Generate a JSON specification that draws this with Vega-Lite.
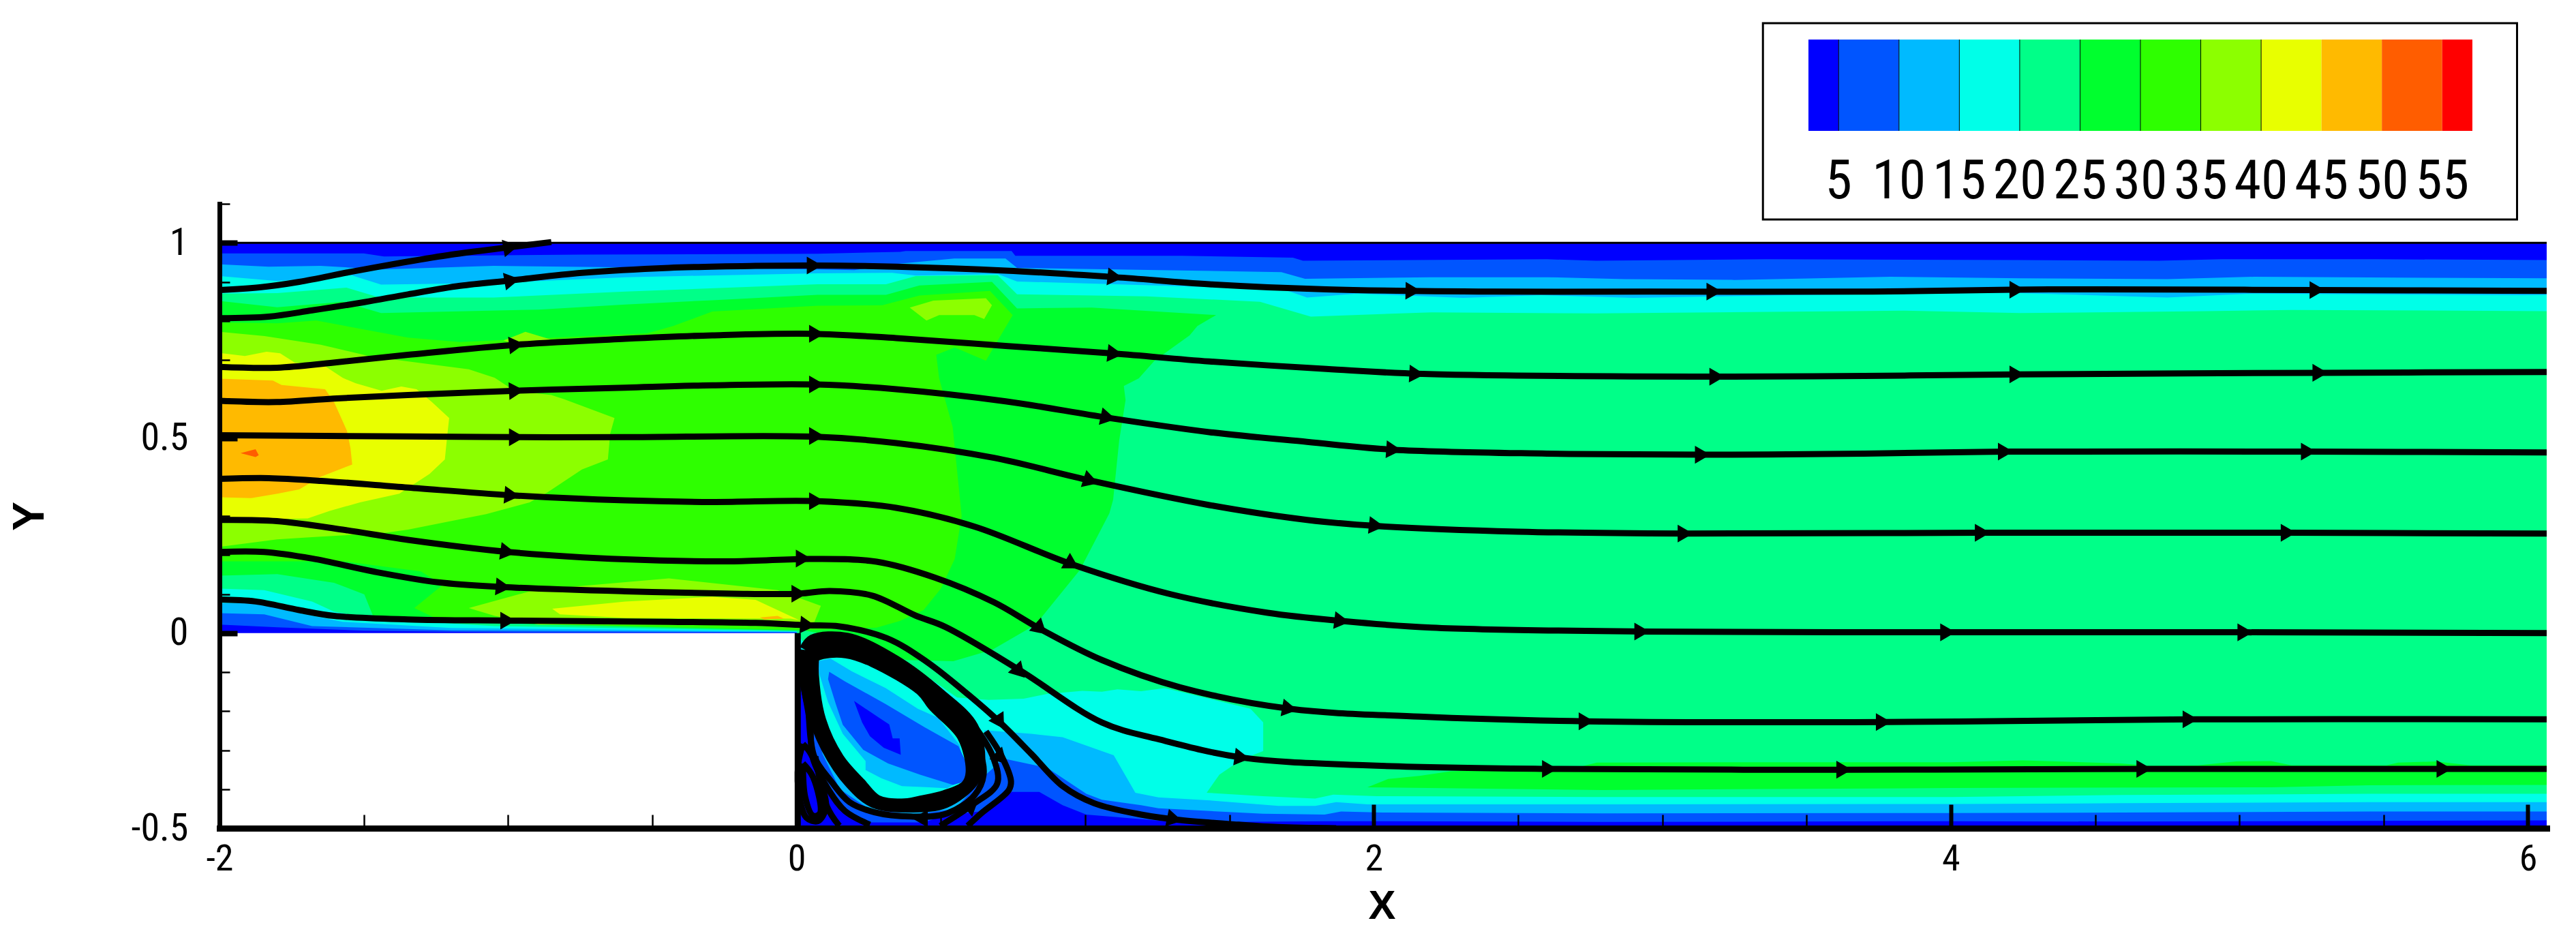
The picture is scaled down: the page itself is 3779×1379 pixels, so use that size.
{"$schema":"https://vega.github.io/schema/vega-lite/v6.json","width":3414,"height":916,"autosize":"none","padding":{"left":322,"top":299,"right":43,"bottom":164},"background":"white","config":{"view":{"stroke":null}},
"datasets":{
"bands":[
{"p":"base","u":2.5,"x":-2,"y":1},{"p":"base","u":2.5,"x":6.065,"y":1},{"p":"base","u":2.5,"x":6.065,"y":-0.5},{"p":"base","u":2.5,"x":0,"y":-0.5},{"p":"base","u":2.5,"x":0,"y":0},{"p":"base","u":2.5,"x":-2,"y":0},
{"p":"p5","u":7.5,"x":-2,"y":0.973},{"p":"p5","u":7.5,"x":-1.5,"y":0.973},{"p":"p5","u":7.5,"x":-1.43,"y":0.965},{"p":"p5","u":7.5,"x":-0.75,"y":0.97},{"p":"p5","u":7.5,"x":0.073,"y":0.972},{"p":"p5","u":7.5,"x":0.358,"y":0.977},{"p":"p5","u":7.5,"x":0.378,"y":0.979},{"p":"p5","u":7.5,"x":0.745,"y":0.979},{"p":"p5","u":7.5,"x":0.758,"y":0.967},{"p":"p5","u":7.5,"x":1.335,"y":0.967},{"p":"p5","u":7.5,"x":1.72,"y":0.962},{"p":"p5","u":7.5,"x":1.755,"y":0.954},{"p":"p5","u":7.5,"x":2.6,"y":0.958},{"p":"p5","u":7.5,"x":2.77,"y":0.954},{"p":"p5","u":7.5,"x":3.36,"y":0.958},{"p":"p5","u":7.5,"x":4.24,"y":0.956},{"p":"p5","u":7.5,"x":4.72,"y":0.954},{"p":"p5","u":7.5,"x":4.94,"y":0.958},{"p":"p5","u":7.5,"x":5.47,"y":0.958},{"p":"p5","u":7.5,"x":6.065,"y":0.956},{"p":"p5","u":7.5,"x":6.065,"y":-0.48},{"p":"p5","u":7.5,"x":4.59,"y":-0.483},{"p":"p5","u":7.5,"x":4,"y":-0.482},{"p":"p5","u":7.5,"x":2.79,"y":-0.484},{"p":"p5","u":7.5,"x":2.03,"y":-0.482},{"p":"p5","u":7.5,"x":1.833,"y":-0.482},{"p":"p5","u":7.5,"x":1.329,"y":-0.485},{"p":"p5","u":7.5,"x":1.004,"y":-0.465},{"p":"p5","u":7.5,"x":0.922,"y":-0.441},{"p":"p5","u":7.5,"x":0.841,"y":-0.407},{"p":"p5","u":7.5,"x":0.746,"y":-0.407},{"p":"p5","u":7.5,"x":0.648,"y":-0.456},{"p":"p5","u":7.5,"x":0.506,"y":-0.468},{"p":"p5","u":7.5,"x":0.443,"y":-0.485},{"p":"p5","u":7.5,"x":0.254,"y":-0.485},{"p":"p5","u":7.5,"x":0.152,"y":-0.456},{"p":"p5","u":7.5,"x":0.065,"y":-0.322},{"p":"p5","u":7.5,"x":0.025,"y":-0.16},{"p":"p5","u":7.5,"x":0.006,"y":-0.03},{"p":"p5","u":7.5,"x":0,"y":0.001},{"p":"p5","u":7.5,"x":-1.046,"y":0.002},{"p":"p5","u":7.5,"x":-1.498,"y":0.006},{"p":"p5","u":7.5,"x":-1.8,"y":0.015},{"p":"p5","u":7.5,"x":-2,"y":0.022},
{"p":"p10","u":12.5,"x":-2,"y":0.945},{"p":"p10","u":12.5,"x":-1.83,"y":0.939},{"p":"p10","u":12.5,"x":-1.65,"y":0.941},{"p":"p10","u":12.5,"x":-1.44,"y":0.932},{"p":"p10","u":12.5,"x":-1.05,"y":0.941},{"p":"p10","u":12.5,"x":0.073,"y":0.932},{"p":"p10","u":12.5,"x":0.2,"y":0.93},{"p":"p10","u":12.5,"x":0.345,"y":0.946},{"p":"p10","u":12.5,"x":0.546,"y":0.96},{"p":"p10","u":12.5,"x":0.724,"y":0.96},{"p":"p10","u":12.5,"x":0.764,"y":0.936},{"p":"p10","u":12.5,"x":1.68,"y":0.925},{"p":"p10","u":12.5,"x":1.762,"y":0.908},{"p":"p10","u":12.5,"x":2.2,"y":0.912},{"p":"p10","u":12.5,"x":2.6,"y":0.912},{"p":"p10","u":12.5,"x":2.87,"y":0.907},{"p":"p10","u":12.5,"x":3.25,"y":0.905},{"p":"p10","u":12.5,"x":3.79,"y":0.913},{"p":"p10","u":12.5,"x":4.24,"y":0.909},{"p":"p10","u":12.5,"x":4.75,"y":0.907},{"p":"p10","u":12.5,"x":5.05,"y":0.913},{"p":"p10","u":12.5,"x":6.065,"y":0.909},{"p":"p10","u":12.5,"x":6.065,"y":-0.457},{"p":"p10","u":12.5,"x":5.45,"y":-0.457},{"p":"p10","u":12.5,"x":4.59,"y":-0.46},{"p":"p10","u":12.5,"x":4,"y":-0.461},{"p":"p10","u":12.5,"x":2.79,"y":-0.462},{"p":"p10","u":12.5,"x":2.03,"y":-0.46},{"p":"p10","u":12.5,"x":1.887,"y":-0.457},{"p":"p10","u":12.5,"x":1.83,"y":-0.465},{"p":"p10","u":12.5,"x":1.616,"y":-0.463},{"p":"p10","u":12.5,"x":1.254,"y":-0.449},{"p":"p10","u":12.5,"x":1.194,"y":-0.441},{"p":"p10","u":12.5,"x":1.058,"y":-0.427},{"p":"p10","u":12.5,"x":1.004,"y":-0.412},{"p":"p10","u":12.5,"x":0.868,"y":-0.345},{"p":"p10","u":12.5,"x":0.719,"y":-0.322},{"p":"p10","u":12.5,"x":0.66,"y":-0.36},{"p":"p10","u":12.5,"x":0.55,"y":-0.45},{"p":"p10","u":12.5,"x":0.4,"y":-0.465},{"p":"p10","u":12.5,"x":0.25,"y":-0.45},{"p":"p10","u":12.5,"x":0.15,"y":-0.4},{"p":"p10","u":12.5,"x":0.09,"y":-0.31},{"p":"p10","u":12.5,"x":0.04,"y":-0.15},{"p":"p10","u":12.5,"x":0.006,"y":-0.03},{"p":"p10","u":12.5,"x":0,"y":0.002},{"p":"p10","u":12.5,"x":-1.196,"y":0.007},{"p":"p10","u":12.5,"x":-1.679,"y":0.018},{"p":"p10","u":12.5,"x":-1.845,"y":0.048},{"p":"p10","u":12.5,"x":-2,"y":0.051},
{"p":"p15","u":17.5,"x":-2,"y":0.915},{"p":"p15","u":17.5,"x":-1.8,"y":0.902},{"p":"p15","u":17.5,"x":-1.66,"y":0.91},{"p":"p15","u":17.5,"x":-1.543,"y":0.917},{"p":"p15","u":17.5,"x":-1.44,"y":0.893},{"p":"p15","u":17.5,"x":-1.05,"y":0.897},{"p":"p15","u":17.5,"x":-0.59,"y":0.912},{"p":"p15","u":17.5,"x":0.073,"y":0.922},{"p":"p15","u":17.5,"x":0.331,"y":0.923},{"p":"p15","u":17.5,"x":0.413,"y":0.916},{"p":"p15","u":17.5,"x":0.697,"y":0.92},{"p":"p15","u":17.5,"x":0.764,"y":0.901},{"p":"p15","u":17.5,"x":1.687,"y":0.881},{"p":"p15","u":17.5,"x":1.769,"y":0.86},{"p":"p15","u":17.5,"x":1.945,"y":0.87},{"p":"p15","u":17.5,"x":2.31,"y":0.859},{"p":"p15","u":17.5,"x":2.58,"y":0.866},{"p":"p15","u":17.5,"x":2.9,"y":0.859},{"p":"p15","u":17.5,"x":3.44,"y":0.866},{"p":"p15","u":17.5,"x":4.2,"y":0.872},{"p":"p15","u":17.5,"x":4.75,"y":0.86},{"p":"p15","u":17.5,"x":5.05,"y":0.87},{"p":"p15","u":17.5,"x":5.98,"y":0.866},{"p":"p15","u":17.5,"x":6.065,"y":0.867},{"p":"p15","u":17.5,"x":6.065,"y":-0.433},{"p":"p15","u":17.5,"x":5.45,"y":-0.433},{"p":"p15","u":17.5,"x":4.59,"y":-0.436},{"p":"p15","u":17.5,"x":4,"y":-0.438},{"p":"p15","u":17.5,"x":2.79,"y":-0.439},{"p":"p15","u":17.5,"x":1.978,"y":-0.439},{"p":"p15","u":17.5,"x":1.87,"y":-0.433},{"p":"p15","u":17.5,"x":1.797,"y":-0.443},{"p":"p15","u":17.5,"x":1.67,"y":-0.443},{"p":"p15","u":17.5,"x":1.435,"y":-0.429},{"p":"p15","u":17.5,"x":1.254,"y":-0.421},{"p":"p15","u":17.5,"x":1.174,"y":-0.409},{"p":"p15","u":17.5,"x":1.099,"y":-0.313},{"p":"p15","u":17.5,"x":0.922,"y":-0.267},{"p":"p15","u":17.5,"x":0.814,"y":-0.258},{"p":"p15","u":17.5,"x":0.651,"y":-0.249},{"p":"p15","u":17.5,"x":0.64,"y":-0.36},{"p":"p15","u":17.5,"x":0.52,"y":-0.44},{"p":"p15","u":17.5,"x":0.3,"y":-0.44},{"p":"p15","u":17.5,"x":0.17,"y":-0.38},{"p":"p15","u":17.5,"x":0.09,"y":-0.28},{"p":"p15","u":17.5,"x":0.04,"y":-0.1},{"p":"p15","u":17.5,"x":0.006,"y":-0.01},{"p":"p15","u":17.5,"x":0,"y":0.004},{"p":"p15","u":17.5,"x":-1.196,"y":0.013},{"p":"p15","u":17.5,"x":-1.573,"y":0.029},{"p":"p15","u":17.5,"x":-1.724,"y":0.051},{"p":"p15","u":17.5,"x":-1.875,"y":0.077},{"p":"p15","u":17.5,"x":-2,"y":0.077},
{"p":"p20","u":22.5,"x":-2,"y":0.87},{"p":"p20","u":22.5,"x":-1.8,"y":0.871},{"p":"p20","u":22.5,"x":-1.56,"y":0.885},{"p":"p20","u":22.5,"x":-1.445,"y":0.86},{"p":"p20","u":22.5,"x":-1.05,"y":0.86},{"p":"p20","u":22.5,"x":-0.594,"y":0.875},{"p":"p20","u":22.5,"x":0.073,"y":0.894},{"p":"p20","u":22.5,"x":0.31,"y":0.894},{"p":"p20","u":22.5,"x":0.413,"y":0.915},{"p":"p20","u":22.5,"x":0.697,"y":0.917},{"p":"p20","u":22.5,"x":0.764,"y":0.868},{"p":"p20","u":22.5,"x":1.213,"y":0.863},{"p":"p20","u":22.5,"x":1.606,"y":0.849},{"p":"p20","u":22.5,"x":1.782,"y":0.811},{"p":"p20","u":22.5,"x":2.2,"y":0.822},{"p":"p20","u":22.5,"x":2.77,"y":0.819},{"p":"p20","u":22.5,"x":3.84,"y":0.826},{"p":"p20","u":22.5,"x":4.24,"y":0.82},{"p":"p20","u":22.5,"x":4.88,"y":0.825},{"p":"p20","u":22.5,"x":5.18,"y":0.828},{"p":"p20","u":22.5,"x":6.065,"y":0.825},{"p":"p20","u":22.5,"x":6.065,"y":-0.412},{"p":"p20","u":22.5,"x":5.45,"y":-0.412},{"p":"p20","u":22.5,"x":4.59,"y":-0.415},{"p":"p20","u":22.5,"x":4,"y":-0.42},{"p":"p20","u":22.5,"x":2.77,"y":-0.42},{"p":"p20","u":22.5,"x":2.01,"y":-0.418},{"p":"p20","u":22.5,"x":1.86,"y":-0.414},{"p":"p20","u":22.5,"x":1.797,"y":-0.424},{"p":"p20","u":22.5,"x":1.616,"y":-0.418},{"p":"p20","u":22.5,"x":1.421,"y":-0.409},{"p":"p20","u":22.5,"x":1.465,"y":-0.363},{"p":"p20","u":22.5,"x":1.54,"y":-0.325},{"p":"p20","u":22.5,"x":1.617,"y":-0.302},{"p":"p20","u":22.5,"x":1.617,"y":-0.229},{"p":"p20","u":22.5,"x":1.573,"y":-0.194},{"p":"p20","u":22.5,"x":1.329,"y":-0.15},{"p":"p20","u":22.5,"x":1.275,"y":-0.141},{"p":"p20","u":22.5,"x":1.194,"y":-0.149},{"p":"p20","u":22.5,"x":1.112,"y":-0.144},{"p":"p20","u":22.5,"x":1.058,"y":-0.15},{"p":"p20","u":22.5,"x":0.99,"y":-0.148},{"p":"p20","u":22.5,"x":0.868,"y":-0.156},{"p":"p20","u":22.5,"x":0.787,"y":-0.168},{"p":"p20","u":22.5,"x":0.665,"y":-0.171},{"p":"p20","u":22.5,"x":0.556,"y":-0.165},{"p":"p20","u":22.5,"x":0.45,"y":-0.11},{"p":"p20","u":22.5,"x":0.2,"y":-0.05},{"p":"p20","u":22.5,"x":0.07,"y":-0.04},{"p":"p20","u":22.5,"x":0.02,"y":-0.02},{"p":"p20","u":22.5,"x":0,"y":0.005},{"p":"p20","u":22.5,"x":-1.046,"y":0.018},{"p":"p20","u":22.5,"x":-1.468,"y":0.037},{"p":"p20","u":22.5,"x":-1.603,"y":0.055},{"p":"p20","u":22.5,"x":-1.679,"y":0.081},{"p":"p20","u":22.5,"x":-1.845,"y":0.11},{"p":"p20","u":22.5,"x":-2,"y":0.114},
{"p":"p25","u":27.5,"x":-2,"y":0.851},{"p":"p25","u":27.5,"x":-1.8,"y":0.835},{"p":"p25","u":27.5,"x":-1.573,"y":0.849},{"p":"p25","u":27.5,"x":-1.44,"y":0.82},{"p":"p25","u":27.5,"x":-0.895,"y":0.829},{"p":"p25","u":27.5,"x":-0.594,"y":0.842},{"p":"p25","u":27.5,"x":-0.292,"y":0.853},{"p":"p25","u":27.5,"x":0.073,"y":0.867},{"p":"p25","u":27.5,"x":0.31,"y":0.867},{"p":"p25","u":27.5,"x":0.426,"y":0.891},{"p":"p25","u":27.5,"x":0.677,"y":0.9},{"p":"p25","u":27.5,"x":0.764,"y":0.832},{"p":"p25","u":27.5,"x":1.023,"y":0.834},{"p":"p25","u":27.5,"x":1.454,"y":0.815},{"p":"p25","u":27.5,"x":1.389,"y":0.787},{"p":"p25","u":27.5,"x":1.362,"y":0.763},{"p":"p25","u":27.5,"x":1.24,"y":0.698},{"p":"p25","u":27.5,"x":1.186,"y":0.653},{"p":"p25","u":27.5,"x":1.134,"y":0.633},{"p":"p25","u":27.5,"x":1.14,"y":0.597},{"p":"p25","u":27.5,"x":1.118,"y":0.494},{"p":"p25","u":27.5,"x":1.097,"y":0.342},{"p":"p25","u":27.5,"x":1.084,"y":0.307},{"p":"p25","u":27.5,"x":0.982,"y":0.162},{"p":"p25","u":27.5,"x":0.846,"y":0.038},{"p":"p25","u":27.5,"x":0.841,"y":0.027},{"p":"p25","u":27.5,"x":0.678,"y":-0.043},{"p":"p25","u":27.5,"x":0.543,"y":-0.072},{"p":"p25","u":27.5,"x":0.38,"y":-0.069},{"p":"p25","u":27.5,"x":0.17,"y":-0.012},{"p":"p25","u":27.5,"x":0.03,"y":0.006},{"p":"p25","u":27.5,"x":-0.895,"y":0.022},{"p":"p25","u":27.5,"x":-1.468,"y":0.044},{"p":"p25","u":27.5,"x":-1.498,"y":0.099},{"p":"p25","u":27.5,"x":-1.603,"y":0.129},{"p":"p25","u":27.5,"x":-1.8,"y":0.151},{"p":"p25","u":27.5,"x":-2,"y":0.147},
{"p":"p25b","u":27.5,"x":1.978,"y":-0.395},{"p":"p25b","u":27.5,"x":2.05,"y":-0.374},{"p":"p25b","u":27.5,"x":2.158,"y":-0.366},{"p":"p25b","u":27.5,"x":2.266,"y":-0.354},{"p":"p25b","u":27.5,"x":2.719,"y":-0.342},{"p":"p25b","u":27.5,"x":2.773,"y":-0.332},{"p":"p25b","u":27.5,"x":3.243,"y":-0.331},{"p":"p25b","u":27.5,"x":4,"y":-0.331},{"p":"p25b","u":27.5,"x":4.25,"y":-0.326},{"p":"p25b","u":27.5,"x":4.59,"y":-0.334},{"p":"p25b","u":27.5,"x":4.69,"y":-0.34},{"p":"p25b","u":27.5,"x":4.857,"y":-0.339},{"p":"p25b","u":27.5,"x":4.99,"y":-0.329},{"p":"p25b","u":27.5,"x":5.11,"y":-0.328},{"p":"p25b","u":27.5,"x":5.18,"y":-0.339},{"p":"p25b","u":27.5,"x":5.51,"y":-0.339},{"p":"p25b","u":27.5,"x":5.55,"y":-0.332},{"p":"p25b","u":27.5,"x":5.68,"y":-0.329},{"p":"p25b","u":27.5,"x":5.8,"y":-0.339},{"p":"p25b","u":27.5,"x":6.065,"y":-0.339},{"p":"p25b","u":27.5,"x":6.065,"y":-0.389},{"p":"p25b","u":27.5,"x":5.45,"y":-0.39},{"p":"p25b","u":27.5,"x":5.11,"y":-0.395},{"p":"p25b","u":27.5,"x":4.44,"y":-0.396},{"p":"p25b","u":27.5,"x":4,"y":-0.397},{"p":"p25b","u":27.5,"x":2.79,"y":-0.402},
{"p":"p30","u":32.5,"x":-2,"y":0.796},{"p":"p30","u":32.5,"x":-1.8,"y":0.794},{"p":"p30","u":32.5,"x":-1.664,"y":0.801},{"p":"p30","u":32.5,"x":-1.347,"y":0.757},{"p":"p30","u":32.5,"x":-1.166,"y":0.746},{"p":"p30","u":32.5,"x":-0.518,"y":0.768},{"p":"p30","u":32.5,"x":-0.428,"y":0.787},{"p":"p30","u":32.5,"x":-0.292,"y":0.824},{"p":"p30","u":32.5,"x":0.073,"y":0.839},{"p":"p30","u":32.5,"x":0.297,"y":0.84},{"p":"p30","u":32.5,"x":0.426,"y":0.865},{"p":"p30","u":32.5,"x":0.67,"y":0.877},{"p":"p30","u":32.5,"x":0.749,"y":0.815},{"p":"p30","u":32.5,"x":0.656,"y":0.698},{"p":"p30","u":32.5,"x":0.548,"y":0.732},{"p":"p30","u":32.5,"x":0.484,"y":0.713},{"p":"p30","u":32.5,"x":0.494,"y":0.653},{"p":"p30","u":32.5,"x":0.541,"y":0.528},{"p":"p30","u":32.5,"x":0.572,"y":0.3},{"p":"p30","u":32.5,"x":0.548,"y":0.19},{"p":"p30","u":32.5,"x":0.5,"y":0.114},{"p":"p30","u":32.5,"x":0.44,"y":0.059},{"p":"p30","u":32.5,"x":0.358,"y":0.031},{"p":"p30","u":32.5,"x":0.277,"y":0.014},{"p":"p30","u":32.5,"x":0.168,"y":0.01},{"p":"p30","u":32.5,"x":0.03,"y":0.008},{"p":"p30","u":32.5,"x":-0.594,"y":0.018},{"p":"p30","u":32.5,"x":-1.166,"y":0.029},{"p":"p30","u":32.5,"x":-1.257,"y":0.04},{"p":"p30","u":32.5,"x":-1.325,"y":0.064},{"p":"p30","u":32.5,"x":-1.227,"y":0.123},{"p":"p30","u":32.5,"x":-1.302,"y":0.158},{"p":"p30","u":32.5,"x":-1.573,"y":0.184},{"p":"p30","u":32.5,"x":-1.845,"y":0.184},{"p":"p30","u":32.5,"x":-2,"y":0.184},
{"p":"p35","u":37.5,"x":-2,"y":0.772},{"p":"p35","u":37.5,"x":-1.844,"y":0.761},{"p":"p35","u":37.5,"x":-1.649,"y":0.739},{"p":"p35","u":37.5,"x":-1.483,"y":0.71},{"p":"p35","u":37.5,"x":-1.377,"y":0.699},{"p":"p35","u":37.5,"x":-1.136,"y":0.676},{"p":"p35","u":37.5,"x":-1.046,"y":0.654},{"p":"p35","u":37.5,"x":-0.978,"y":0.621},{"p":"p35","u":37.5,"x":-0.85,"y":0.61},{"p":"p35","u":37.5,"x":-0.805,"y":0.599},{"p":"p35","u":37.5,"x":-0.631,"y":0.551},{"p":"p35","u":37.5,"x":-0.646,"y":0.511},{"p":"p35","u":37.5,"x":-0.654,"y":0.445},{"p":"p35","u":37.5,"x":-0.744,"y":0.419},{"p":"p35","u":37.5,"x":-0.865,"y":0.36},{"p":"p35","u":37.5,"x":-0.925,"y":0.335},{"p":"p35","u":37.5,"x":-1.076,"y":0.305},{"p":"p35","u":37.5,"x":-1.347,"y":0.265},{"p":"p35","u":37.5,"x":-1.423,"y":0.257},{"p":"p35","u":37.5,"x":-1.679,"y":0.246},{"p":"p35","u":37.5,"x":-1.8,"y":0.24},{"p":"p35","u":37.5,"x":-2,"y":0.221},
{"p":"p35b","u":37.5,"x":-1.016,"y":0.75},{"p":"p35b","u":37.5,"x":-0.94,"y":0.772},{"p":"p35b","u":37.5,"x":-0.85,"y":0.752},{"p":"p35b","u":37.5,"x":-0.95,"y":0.735},
{"p":"p35c","u":37.5,"x":0.392,"y":0.834},{"p":"p35c","u":37.5,"x":0.474,"y":0.852},{"p":"p35c","u":37.5,"x":0.656,"y":0.858},{"p":"p35c","u":37.5,"x":0.677,"y":0.84},{"p":"p35c","u":37.5,"x":0.65,"y":0.805},{"p":"p35c","u":37.5,"x":0.616,"y":0.815},{"p":"p35c","u":37.5,"x":0.494,"y":0.815},{"p":"p35c","u":37.5,"x":0.45,"y":0.801},
{"p":"p35d","u":37.5,"x":-1.136,"y":0.064},{"p":"p35d","u":37.5,"x":-0.925,"y":0.107},{"p":"p35d","u":37.5,"x":-0.79,"y":0.118},{"p":"p35d","u":37.5,"x":-0.443,"y":0.14},{"p":"p35d","u":37.5,"x":-0.066,"y":0.11},{"p":"p35d","u":37.5,"x":0.084,"y":0.07},{"p":"p35d","u":37.5,"x":0.062,"y":0.029},{"p":"p35d","u":37.5,"x":0.009,"y":0.022},{"p":"p35d","u":37.5,"x":-0.895,"y":0.022},{"p":"p35d","u":37.5,"x":-1.046,"y":0.044},
{"p":"p40","u":42.5,"x":-2,"y":0.718},{"p":"p40","u":42.5,"x":-1.912,"y":0.71},{"p":"p40","u":42.5,"x":-1.837,"y":0.721},{"p":"p40","u":42.5,"x":-1.79,"y":0.717},{"p":"p40","u":42.5,"x":-1.739,"y":0.693},{"p":"p40","u":42.5,"x":-1.634,"y":0.684},{"p":"p40","u":42.5,"x":-1.573,"y":0.654},{"p":"p40","u":42.5,"x":-1.528,"y":0.64},{"p":"p40","u":42.5,"x":-1.438,"y":0.621},{"p":"p40","u":42.5,"x":-1.37,"y":0.632},{"p":"p40","u":42.5,"x":-1.317,"y":0.625},{"p":"p40","u":42.5,"x":-1.264,"y":0.592},{"p":"p40","u":42.5,"x":-1.204,"y":0.551},{"p":"p40","u":42.5,"x":-1.211,"y":0.504},{"p":"p40","u":42.5,"x":-1.219,"y":0.445},{"p":"p40","u":42.5,"x":-1.272,"y":0.408},{"p":"p40","u":42.5,"x":-1.377,"y":0.357},{"p":"p40","u":42.5,"x":-1.513,"y":0.335},{"p":"p40","u":42.5,"x":-1.618,"y":0.313},{"p":"p40","u":42.5,"x":-1.694,"y":0.294},{"p":"p40","u":42.5,"x":-2,"y":0.29},
{"p":"p40b","u":42.5,"x":-0.847,"y":0.0625},{"p":"p40b","u":42.5,"x":-0.594,"y":0.081},{"p":"p40b","u":42.5,"x":-0.292,"y":0.093},{"p":"p40b","u":42.5,"x":-0.142,"y":0.085},{"p":"p40b","u":42.5,"x":0.009,"y":0.033},{"p":"p40b","u":42.5,"x":-0.021,"y":0.037},{"p":"p40b","u":42.5,"x":-0.594,"y":0.039},{"p":"p40b","u":42.5,"x":-0.82,"y":0.048},
{"p":"p45","u":47.5,"x":-2,"y":0.652},{"p":"p45","u":47.5,"x":-1.815,"y":0.647},{"p":"p45","u":47.5,"x":-1.785,"y":0.636},{"p":"p45","u":47.5,"x":-1.634,"y":0.625},{"p":"p45","u":47.5,"x":-1.603,"y":0.592},{"p":"p45","u":47.5,"x":-1.558,"y":0.518},{"p":"p45","u":47.5,"x":-1.546,"y":0.474},{"p":"p45","u":47.5,"x":-1.54,"y":0.432},{"p":"p45","u":47.5,"x":-1.648,"y":0.401},{"p":"p45","u":47.5,"x":-1.724,"y":0.368},{"p":"p45","u":47.5,"x":-1.799,"y":0.357},{"p":"p45","u":47.5,"x":-1.89,"y":0.346},{"p":"p45","u":47.5,"x":-2,"y":0.348},
{"p":"p45b","u":47.5,"x":-0.127,"y":0.04},{"p":"p45b","u":47.5,"x":-0.066,"y":0.044},{"p":"p45b","u":47.5,"x":-0.044,"y":0.037},{"p":"p45b","u":47.5,"x":-0.112,"y":0.035},
{"p":"p50","u":52.5,"x":-1.927,"y":0.461},{"p":"p50","u":52.5,"x":-1.875,"y":0.471},{"p":"p50","u":52.5,"x":-1.864,"y":0.456},{"p":"p50","u":52.5,"x":-1.875,"y":0.451},
{"p":"v15","u":17.5,"x":0.057,"y":-0.06},{"p":"v15","u":17.5,"x":0.089,"y":-0.051},{"p":"v15","u":17.5,"x":0.172,"y":-0.049},{"p":"v15","u":17.5,"x":0.266,"y":-0.072},{"p":"v15","u":17.5,"x":0.435,"y":-0.147},{"p":"v15","u":17.5,"x":0.475,"y":-0.185},{"p":"v15","u":17.5,"x":0.577,"y":-0.264},{"p":"v15","u":17.5,"x":0.607,"y":-0.357},{"p":"v15","u":17.5,"x":0.589,"y":-0.392},{"p":"v15","u":17.5,"x":0.514,"y":-0.418},{"p":"v15","u":17.5,"x":0.431,"y":-0.432},{"p":"v15","u":17.5,"x":0.365,"y":-0.44},{"p":"v15","u":17.5,"x":0.278,"y":-0.43},{"p":"v15","u":17.5,"x":0.219,"y":-0.386},{"p":"v15","u":17.5,"x":0.144,"y":-0.322},{"p":"v15","u":17.5,"x":0.081,"y":-0.223},{"p":"v15","u":17.5,"x":0.056,"y":-0.107},
{"p":"v10","u":12.5,"x":0.073,"y":-0.072},{"p":"v10","u":12.5,"x":0.117,"y":-0.065},{"p":"v10","u":12.5,"x":0.191,"y":-0.098},{"p":"v10","u":12.5,"x":0.309,"y":-0.141},{"p":"v10","u":12.5,"x":0.42,"y":-0.194},{"p":"v10","u":12.5,"x":0.491,"y":-0.217},{"p":"v10","u":12.5,"x":0.565,"y":-0.287},{"p":"v10","u":12.5,"x":0.589,"y":-0.369},{"p":"v10","u":12.5,"x":0.522,"y":-0.398},{"p":"v10","u":12.5,"x":0.459,"y":-0.395},{"p":"v10","u":12.5,"x":0.365,"y":-0.392},{"p":"v10","u":12.5,"x":0.294,"y":-0.372},{"p":"v10","u":12.5,"x":0.239,"y":-0.351},{"p":"v10","u":12.5,"x":0.239,"y":-0.328},{"p":"v10","u":12.5,"x":0.16,"y":-0.258},{"p":"v10","u":12.5,"x":0.109,"y":-0.177},{"p":"v10","u":12.5,"x":0.077,"y":-0.101},
{"p":"v5","u":7.5,"x":0.113,"y":-0.099},{"p":"v5","u":7.5,"x":0.168,"y":-0.124},{"p":"v5","u":7.5,"x":0.309,"y":-0.182},{"p":"v5","u":7.5,"x":0.443,"y":-0.241},{"p":"v5","u":7.5,"x":0.561,"y":-0.29},{"p":"v5","u":7.5,"x":0.589,"y":-0.334},{"p":"v5","u":7.5,"x":0.585,"y":-0.38},{"p":"v5","u":7.5,"x":0.542,"y":-0.389},{"p":"v5","u":7.5,"x":0.428,"y":-0.363},{"p":"v5","u":7.5,"x":0.317,"y":-0.334},{"p":"v5","u":7.5,"x":0.231,"y":-0.299},{"p":"v5","u":7.5,"x":0.16,"y":-0.235},{"p":"v5","u":7.5,"x":0.136,"y":-0.182},{"p":"v5","u":7.5,"x":0.109,"y":-0.118},
{"p":"v0","u":2.5,"x":0.199,"y":-0.174},{"p":"v0","u":2.5,"x":0.286,"y":-0.217},{"p":"v0","u":2.5,"x":0.321,"y":-0.234},{"p":"v0","u":2.5,"x":0.333,"y":-0.27},{"p":"v0","u":2.5,"x":0.357,"y":-0.27},{"p":"v0","u":2.5,"x":0.361,"y":-0.312},{"p":"v0","u":2.5,"x":0.302,"y":-0.294},{"p":"v0","u":2.5,"x":0.254,"y":-0.264},{"p":"v0","u":2.5,"x":0.227,"y":-0.229}
],
"streams":[
{"s":"A","x":-2,"y":0.879},{"s":"A","x":-1.86,"y":0.886},{"s":"A","x":-1.724,"y":0.9},{"s":"A","x":-1.543,"y":0.926},{"s":"A","x":-1.377,"y":0.948},{"s":"A","x":-1.196,"y":0.97},{"s":"A","x":-0.993,"y":0.989},{"s":"A","x":-0.85,"y":1.002},
{"s":"B","x":-2,"y":0.807},{"s":"B","x":-1.829,"y":0.811},{"s":"B","x":-1.679,"y":0.827},{"s":"B","x":-1.498,"y":0.848},{"s":"B","x":-1.347,"y":0.868},{"s":"B","x":-1.166,"y":0.89},{"s":"B","x":-0.986,"y":0.904},{"s":"B","x":-0.744,"y":0.923},{"s":"B","x":-0.443,"y":0.936},{"s":"B","x":-0.142,"y":0.941},{"s":"B","x":0.054,"y":0.942},{"s":"B","x":0.345,"y":0.939},{"s":"B","x":0.724,"y":0.929},{"s":"B","x":1.104,"y":0.912},{"s":"B","x":1.43,"y":0.894},{"s":"B","x":1.836,"y":0.881},{"s":"B","x":2.418,"y":0.875},{"s":"B","x":2.954,"y":0.875},{"s":"B","x":3.73,"y":0.875},{"s":"B","x":4.21,"y":0.88},{"s":"B","x":4.51,"y":0.881},{"s":"B","x":5.26,"y":0.879},{"s":"B","x":6.065,"y":0.877},
{"s":"C","x":-2,"y":0.682},{"s":"C","x":-1.801,"y":0.68},{"s":"C","x":-1.605,"y":0.693},{"s":"C","x":-1.347,"y":0.713},{"s":"C","x":-0.97,"y":0.739},{"s":"C","x":-0.594,"y":0.754},{"s":"C","x":-0.292,"y":0.763},{"s":"C","x":0.054,"y":0.767},{"s":"C","x":0.345,"y":0.756},{"s":"C","x":0.724,"y":0.736},{"s":"C","x":1.104,"y":0.716},{"s":"C","x":1.43,"y":0.696},{"s":"C","x":1.836,"y":0.677},{"s":"C","x":2.17,"y":0.664},{"s":"C","x":3.19,"y":0.657},{"s":"C","x":3.7,"y":0.659},{"s":"C","x":4.23,"y":0.663},{"s":"C","x":5.28,"y":0.667},{"s":"C","x":6.065,"y":0.669},
{"s":"D","x":-2,"y":0.595},{"s":"D","x":-1.801,"y":0.592},{"s":"D","x":-1.605,"y":0.601},{"s":"D","x":-1.347,"y":0.61},{"s":"D","x":-0.97,"y":0.621},{"s":"D","x":-0.594,"y":0.629},{"s":"D","x":-0.292,"y":0.635},{"s":"D","x":0.069,"y":0.637},{"s":"D","x":0.345,"y":0.625},{"s":"D","x":0.724,"y":0.594},{"s":"D","x":1.077,"y":0.552},{"s":"D","x":1.43,"y":0.515},{"s":"D","x":1.769,"y":0.49},{"s":"D","x":2.067,"y":0.47},{"s":"D","x":2.6,"y":0.46},{"s":"D","x":3.14,"y":0.457},{"s":"D","x":3.7,"y":0.46},{"s":"D","x":4.19,"y":0.465},{"s":"D","x":5.24,"y":0.465},{"s":"D","x":6.065,"y":0.463},
{"s":"E","x":-2,"y":0.507},{"s":"E","x":-1.347,"y":0.504},{"s":"E","x":-0.97,"y":0.502},{"s":"E","x":-0.594,"y":0.502},{"s":"E","x":0.069,"y":0.503},{"s":"E","x":0.345,"y":0.487},{"s":"E","x":0.684,"y":0.449},{"s":"E","x":1.023,"y":0.39},{"s":"E","x":1.43,"y":0.328},{"s":"E","x":1.769,"y":0.29},{"s":"E","x":2.04,"y":0.273},{"s":"E","x":2.5,"y":0.26},{"s":"E","x":3.08,"y":0.255},{"s":"E","x":4.11,"y":0.257},{"s":"E","x":5.17,"y":0.257},{"s":"E","x":6.065,"y":0.255},
{"s":"F","x":-2,"y":0.395},{"s":"F","x":-1.829,"y":0.397},{"s":"F","x":-1.648,"y":0.39},{"s":"F","x":-1.347,"y":0.373},{"s":"F","x":-0.986,"y":0.353},{"s":"F","x":-0.594,"y":0.34},{"s":"F","x":-0.292,"y":0.336},{"s":"F","x":0.073,"y":0.338},{"s":"F","x":0.345,"y":0.321},{"s":"F","x":0.616,"y":0.273},{"s":"F","x":0.955,"y":0.176},{"s":"F","x":1.294,"y":0.1},{"s":"F","x":1.633,"y":0.052},{"s":"F","x":1.89,"y":0.031},{"s":"F","x":2.2,"y":0.014},{"s":"F","x":2.93,"y":0.004},{"s":"F","x":3.99,"y":0.002},{"s":"F","x":5.02,"y":0.002},{"s":"F","x":6.065,"y":0},
{"s":"G","x":-2,"y":0.29},{"s":"G","x":-1.801,"y":0.287},{"s":"G","x":-1.573,"y":0.265},{"s":"G","x":-1.347,"y":0.239},{"s":"G","x":-1,"y":0.208},{"s":"G","x":-0.594,"y":0.189},{"s":"G","x":-0.217,"y":0.184},{"s":"G","x":0.05,"y":0.19},{"s":"G","x":0.277,"y":0.183},{"s":"G","x":0.48,"y":0.142},{"s":"G","x":0.684,"y":0.079},{"s":"G","x":0.846,"y":0.01},{"s":"G","x":1.058,"y":-0.069},{"s":"G","x":1.329,"y":-0.139},{"s":"G","x":1.709,"y":-0.194},{"s":"G","x":2.158,"y":-0.214},{"s":"G","x":2.737,"y":-0.226},{"s":"G","x":3.767,"y":-0.228},{"s":"G","x":4.83,"y":-0.221},{"s":"G","x":6.065,"y":-0.221},
{"s":"H","x":-2,"y":0.208},{"s":"H","x":-1.845,"y":0.208},{"s":"H","x":-1.679,"y":0.191},{"s":"H","x":-1.468,"y":0.158},{"s":"H","x":-1.242,"y":0.13},{"s":"H","x":-1.016,"y":0.118},{"s":"H","x":-0.594,"y":0.107},{"s":"H","x":-0.217,"y":0.101},{"s":"H","x":0.009,"y":0.101},{"s":"H","x":0.115,"y":0.108},{"s":"H","x":0.262,"y":0.096},{"s":"H","x":0.412,"y":0.045},{"s":"H","x":0.515,"y":0.016},{"s":"H","x":0.773,"y":-0.095},{"s":"H","x":1.058,"y":-0.229},{"s":"H","x":1.254,"y":-0.272},{"s":"H","x":1.544,"y":-0.319},{"s":"H","x":1.978,"y":-0.339},{"s":"H","x":2.592,"y":-0.348},{"s":"H","x":3.622,"y":-0.35},{"s":"H","x":4.67,"y":-0.348},{"s":"H","x":6.065,"y":-0.348},
{"s":"I","x":-2,"y":0.086},{"s":"I","x":-1.875,"y":0.081},{"s":"I","x":-1.724,"y":0.059},{"s":"I","x":-1.603,"y":0.044},{"s":"I","x":-1.347,"y":0.035},{"s":"I","x":-1,"y":0.032},{"s":"I","x":-0.443,"y":0.029},{"s":"I","x":-0.142,"y":0.026},{"s":"I","x":0.039,"y":0.02},{"s":"I","x":0.149,"y":0.017},{"s":"I","x":0.312,"y":-0.013},{"s":"I","x":0.448,"y":-0.072},{"s":"I","x":0.597,"y":-0.159},{"s":"I","x":0.705,"y":-0.229},{"s":"I","x":0.814,"y":-0.31},{"s":"I","x":0.922,"y":-0.392},{"s":"I","x":1.031,"y":-0.436},{"s":"I","x":1.194,"y":-0.465},{"s":"I","x":1.329,"y":-0.479},{"s":"I","x":1.533,"y":-0.491},{"s":"I","x":1.668,"y":-0.497},{"s":"I","x":1.87,"y":-0.5},
{"s":"U1","x":0.042,"y":-0.2},{"s":"U1","x":0.061,"y":-0.316},{"s":"U1","x":0.12,"y":-0.38},{"s":"U1","x":0.183,"y":-0.433},{"s":"U1","x":0.27,"y":-0.459},{"s":"U1","x":0.396,"y":-0.47},{"s":"U1","x":0.522,"y":-0.462},{"s":"U1","x":0.617,"y":-0.415},{"s":"U1","x":0.648,"y":-0.363},{"s":"U1","x":0.632,"y":-0.299},{"s":"U1","x":0.561,"y":-0.217},
{"s":"U2","x":0.014,"y":-0.101},{"s":"U2","x":0.046,"y":-0.229},{"s":"U2","x":0.057,"y":-0.322},{"s":"U2","x":0.113,"y":-0.404},{"s":"U2","x":0.168,"y":-0.456},{"s":"U2","x":0.254,"y":-0.491},
{"s":"U2b","x":0.498,"y":-0.494},{"s":"U2b","x":0.609,"y":-0.44},{"s":"U2b","x":0.695,"y":-0.386},{"s":"U2b","x":0.683,"y":-0.322},{"s":"U2b","x":0.624,"y":-0.246},{"s":"U2b","x":0.569,"y":-0.2},
{"s":"U3","x":0.593,"y":-0.494},{"s":"U3","x":0.64,"y":-0.462},{"s":"U3","x":0.735,"y":-0.403},{"s":"U3","x":0.743,"y":-0.38},{"s":"U3","x":0.711,"y":-0.316},{"s":"U3","x":0.656,"y":-0.252},
{"s":"U4","x":0.065,"y":-0.316},{"s":"U4","x":0.105,"y":-0.444},{"s":"U4","x":0.148,"y":-0.494},
{"s":"E1","x":0.022,"y":-0.284},{"s":"E1","x":0.05,"y":-0.31},{"s":"E1","x":0.089,"y":-0.392},{"s":"E1","x":0.101,"y":-0.45},{"s":"E1","x":0.073,"y":-0.482},{"s":"E1","x":0.034,"y":-0.473},{"s":"E1","x":0.01,"y":-0.421},{"s":"E1","x":0.006,"y":-0.334},{"s":"E1","x":0.022,"y":-0.284},
{"s":"E2","x":0.022,"y":-0.334},{"s":"E2","x":0.03,"y":-0.421},{"s":"E2","x":0.057,"y":-0.468},{"s":"E2","x":0.081,"y":-0.462},{"s":"E2","x":0.057,"y":-0.369},{"s":"E2","x":0.022,"y":-0.334},
{"s":"W","x":0.004,"y":0},{"s":"W","x":0.004,"y":-0.25},{"s":"W","x":0.004,"y":-0.5}
],
"rings":[
{"s":"L1","x":0.057,"y":-0.06},{"s":"L1","x":0.089,"y":-0.051},{"s":"L1","x":0.172,"y":-0.049},{"s":"L1","x":0.266,"y":-0.072},{"s":"L1","x":0.435,"y":-0.147},{"s":"L1","x":0.475,"y":-0.185},{"s":"L1","x":0.577,"y":-0.264},{"s":"L1","x":0.607,"y":-0.357},{"s":"L1","x":0.589,"y":-0.392},{"s":"L1","x":0.514,"y":-0.418},{"s":"L1","x":0.431,"y":-0.432},{"s":"L1","x":0.365,"y":-0.44},{"s":"L1","x":0.278,"y":-0.43},{"s":"L1","x":0.219,"y":-0.386},{"s":"L1","x":0.144,"y":-0.322},{"s":"L1","x":0.081,"y":-0.223},{"s":"L1","x":0.056,"y":-0.107},{"s":"L1","x":0.057,"y":-0.06},
{"s":"L3","x":0.044,"y":-0.05},{"s":"L3","x":0.073,"y":-0.035},{"s":"L3","x":0.174,"y":-0.032},{"s":"L3","x":0.303,"y":-0.072},{"s":"L3","x":0.466,"y":-0.153},{"s":"L3","x":0.593,"y":-0.252},{"s":"L3","x":0.62,"y":-0.345},{"s":"L3","x":0.6,"y":-0.386},{"s":"L3","x":0.514,"y":-0.426},{"s":"L3","x":0.418,"y":-0.438},{"s":"L3","x":0.274,"y":-0.432},{"s":"L3","x":0.203,"y":-0.385},{"s":"L3","x":0.125,"y":-0.308},{"s":"L3","x":0.065,"y":-0.205},{"s":"L3","x":0.042,"y":-0.095},{"s":"L3","x":0.044,"y":-0.05},
{"s":"L2","x":0.03,"y":-0.043},{"s":"L2","x":0.057,"y":-0.019},{"s":"L2","x":0.176,"y":-0.015},{"s":"L2","x":0.341,"y":-0.072},{"s":"L2","x":0.498,"y":-0.159},{"s":"L2","x":0.609,"y":-0.241},{"s":"L2","x":0.632,"y":-0.334},{"s":"L2","x":0.609,"y":-0.38},{"s":"L2","x":0.514,"y":-0.433},{"s":"L2","x":0.404,"y":-0.444},{"s":"L2","x":0.27,"y":-0.433},{"s":"L2","x":0.187,"y":-0.383},{"s":"L2","x":0.105,"y":-0.293},{"s":"L2","x":0.05,"y":-0.188},{"s":"L2","x":0.028,"y":-0.083},{"s":"L2","x":0.03,"y":-0.043}
],
"arrows":[
{"x":-0.99,"y":0.989,"a":-10},
{"x":-0.986,"y":0.904,"a":-10},{"x":0.062,"y":0.942,"a":0},{"x":1.104,"y":0.912,"a":6},{"x":2.137,"y":0.877,"a":1},{"x":3.18,"y":0.875,"a":0},{"x":4.23,"y":0.88,"a":0},{"x":5.27,"y":0.879,"a":0},
{"x":-0.97,"y":0.739,"a":-6},{"x":0.07,"y":0.767,"a":0},{"x":1.104,"y":0.716,"a":6},{"x":2.15,"y":0.664,"a":3},{"x":3.19,"y":0.657,"a":0},{"x":4.23,"y":0.663,"a":0},{"x":5.28,"y":0.667,"a":0},
{"x":-0.97,"y":0.621,"a":-3},{"x":0.07,"y":0.637,"a":0},{"x":1.08,"y":0.552,"a":12},{"x":2.07,"y":0.47,"a":4},{"x":3.14,"y":0.457,"a":0},{"x":4.19,"y":0.465,"a":0},{"x":5.24,"y":0.465,"a":0},
{"x":-0.97,"y":0.502,"a":0},{"x":0.07,"y":0.505,"a":0},{"x":1.02,"y":0.39,"a":18},{"x":2.01,"y":0.275,"a":6},{"x":3.08,"y":0.255,"a":0},{"x":4.11,"y":0.257,"a":0},{"x":5.17,"y":0.257,"a":0},
{"x":-0.986,"y":0.353,"a":5},{"x":0.07,"y":0.338,"a":0},{"x":0.955,"y":0.176,"a":30},{"x":1.89,"y":0.031,"a":7},{"x":2.93,"y":0.004,"a":0},{"x":3.99,"y":0.002,"a":0},{"x":5.02,"y":0.002,"a":0},
{"x":-1,"y":0.208,"a":8},{"x":0.024,"y":0.191,"a":0},{"x":0.846,"y":0.01,"a":42},{"x":1.709,"y":-0.194,"a":10},{"x":2.737,"y":-0.226,"a":0},{"x":3.767,"y":-0.228,"a":0},{"x":4.83,"y":-0.221,"a":0},
{"x":-1.016,"y":0.118,"a":5},{"x":0.009,"y":0.101,"a":0},{"x":0.773,"y":-0.1,"a":47},{"x":1.544,"y":-0.319,"a":8},{"x":2.61,"y":-0.348,"a":0},{"x":3.63,"y":-0.35,"a":0},{"x":4.67,"y":-0.348,"a":0},{"x":5.71,"y":-0.348,"a":0},
{"x":-1,"y":0.032,"a":0},{"x":0.039,"y":0.02,"a":5},{"x":0.705,"y":-0.229,"a":58},{"x":1.31,"y":-0.477,"a":12},
{"x":0.428,"y":-0.475,"a":180},{"x":0.609,"y":-0.44,"a":-40},{"x":0.705,"y":-0.31,"a":-75}
],
"swatches":[{"lo":2.5,"hi":5,"u":2.5},{"lo":5,"hi":10,"u":7.5},{"lo":10,"hi":15,"u":12.5},{"lo":15,"hi":20,"u":17.5},{"lo":20,"hi":25,"u":22.5},{"lo":25,"hi":30,"u":27.5},{"lo":30,"hi":35,"u":32.5},{"lo":35,"hi":40,"u":37.5},{"lo":40,"hi":45,"u":42.5},{"lo":45,"hi":50,"u":47.5},{"lo":50,"hi":55,"u":52.5},{"lo":55,"hi":57.5,"u":56}],
"levels":[{"v":5,"t":"5"},{"v":10,"t":"10"},{"v":15,"t":"15"},{"v":20,"t":"20"},{"v":25,"t":"25"},{"v":30,"t":"30"},{"v":35,"t":"35"},{"v":40,"t":"40"},{"v":45,"t":"45"},{"v":50,"t":"50"},{"v":55,"t":"55"}],
"wall":[{"x":-2,"x2":6.065,"y":1}]
},
"resolve":{"scale":{"x":"independent","y":"independent"},"axis":{"x":"independent","y":"independent"}},
"layer":[
{"layer":[
{"data":{"name":"bands"},"mark":{"type":"line","order":null,"strokeWidth":0,"clip":true},"encoding":{"x":{"field":"x","type":"quantitative","scale":{"domain":[-2,6.065],"nice":false,"zero":false},"axis":{"orient":"bottom","values":[-2,0,2,4,6],"title":"X","titleFont":"Liberation Sans","titleFontWeight":"bold","titleFontSize":60,"titleColor":"black","titleX":1705,"titleY":114,"titleBaseline":"middle","domainColor":"black","domainWidth":9,"domainCap":"square","tickColor":"black","tickWidth":6,"tickSize":-35,"labelFont":"Roboto Condensed, Liberation Sans","labelFontSize":54,"labelColor":"black","labelPadding":53,"labelFlush":false,"labelOverlap":false,"labelBound":false,"grid":false,"zindex":1,"format":"d","labelExpr":"replace(datum.label,'−','-')"}},"y":{"field":"y","type":"quantitative","scale":{"domain":[-0.5,1.1],"nice":false,"zero":false},"axis":{"orient":"left","values":[-0.5,0,0.5,1],"format":"~g","title":"Y","titleFont":"Liberation Sans","titleFontWeight":"bold","titleFontSize":64,"titleColor":"black","titleX":-278,"titleY":458,"titleAngle":-90,"titleBaseline":"middle","domainColor":"black","domainWidth":7,"domainCap":"square","tickColor":"black","tickWidth":8,"tickSize":-26,"labelFont":"Roboto Condensed, Liberation Sans","labelFontSize":56,"labelColor":"black","labelPadding":72,"labelFlush":false,"labelOverlap":false,"labelBound":false,"grid":false,"zindex":1,"labelExpr":"replace(datum.label,'−','-')"}},"detail":{"field":"p"},"fill":{"field":"u","type":"quantitative","legend":null,"scale":{"type":"threshold","domain":[5,10,15,20,25,30,35,40,45,50,55],"range":["#0000ff","#0055ff","#00baff","#00ffe8","#00ff88","#00ff2e","#2eff00","#8cff00","#e8ff00","#ffba00","#ff5d00","#ff0000"]}}}},
{"data":{"name":"wall"},"mark":{"type":"rule","color":"black","strokeWidth":3},"encoding":{"x":{"field":"x","type":"quantitative"},"x2":{"field":"x2"},"y":{"field":"y","type":"quantitative"}}},
{"data":{"name":"streams"},"mark":{"type":"line","order":null,"color":"black","strokeWidth":9,"interpolate":"catmull-rom","clip":false},"encoding":{"x":{"field":"x","type":"quantitative"},"y":{"field":"y","type":"quantitative"},"detail":{"field":"s"}}},
{"data":{"name":"rings"},"mark":{"type":"line","order":null,"color":"black","strokeWidth":18,"interpolate":"catmull-rom"},"encoding":{"x":{"field":"x","type":"quantitative"},"y":{"field":"y","type":"quantitative"},"detail":{"field":"s"}}},
{"data":{"name":"arrows"},"mark":{"type":"point","shape":"triangle-right","filled":true,"color":"black","size":680,"opacity":1},"encoding":{"x":{"field":"x","type":"quantitative"},"y":{"field":"y","type":"quantitative"},"angle":{"field":"a","type":"quantitative","scale":{"domain":[-360,360],"range":[-360,360]}}}}
]},
{"data":{"values":[{}]},"mark":{"type":"point","opacity":0},"encoding":{"x":{"datum":0,"type":"quantitative","scale":{"domain":[-2,6.065],"nice":false,"zero":false},"axis":{"orient":"bottom","values":[-1.5,-1,-0.5,0.5,1,1.5,2.5,3,3.5,4.5,5,5.5],"title":null,"labels":false,"domain":false,"grid":false,"tickColor":"black","tickWidth":2.5,"tickSize":-20,"zindex":1}},"y":{"datum":0,"type":"quantitative","scale":{"domain":[-0.5,1.1],"nice":false,"zero":false},"axis":{"orient":"left","values":[-0.4,-0.3,-0.2,-0.1,0.1,0.2,0.3,0.4,0.6,0.7,0.8,0.9,1.1],"title":null,"labels":false,"domain":false,"grid":false,"tickColor":"black","tickWidth":2.5,"tickSize":-15,"zindex":1}}}},
{"layer":[
{"data":{"values":[{}]},"mark":{"type":"rect","fill":"white","stroke":"black","strokeWidth":3},"encoding":{"x":{"datum":-1.27,"type":"quantitative","axis":null,"scale":{"domain":[2.5,57.5],"range":[2331,3305],"zero":false,"nice":false}},"x2":{"datum":61.2},"y":{"datum":1.18,"type":"quantitative","axis":null,"scale":{"domain":[0,1],"range":[-107,-241],"zero":false,"nice":false}},"y2":{"datum":-0.97}}},
{"data":{"name":"swatches"},"mark":{"type":"rect","stroke":null},"encoding":{"x":{"field":"lo","type":"quantitative","axis":null},"x2":{"field":"hi"},"y":{"datum":0,"type":"quantitative","axis":null},"y2":{"datum":1},"fill":{"field":"u","type":"quantitative","legend":null,"scale":{"type":"threshold","domain":[5,10,15,20,25,30,35,40,45,50,55],"range":["#0000ff","#0055ff","#00baff","#00ffe8","#00ff88","#00ff2e","#2eff00","#8cff00","#e8ff00","#ffba00","#ff5d00","#ff0000"]}}}},
{"data":{"name":"levels"},"transform":[{"filter":"datum.v<=40"}],"mark":{"type":"rule","color":"black","strokeWidth":1},"encoding":{"x":{"field":"v","type":"quantitative","axis":null},"y":{"datum":0,"type":"quantitative","axis":null},"y2":{"datum":1}}},
{"data":{"name":"levels"},"mark":{"type":"text","font":"Roboto Condensed, Liberation Sans","fontSize":80,"color":"black","baseline":"middle","align":"center"},"encoding":{"x":{"field":"v","type":"quantitative","axis":null},"y":{"datum":-0.56,"type":"quantitative","axis":null},"text":{"field":"t"}}}
]}
]}
